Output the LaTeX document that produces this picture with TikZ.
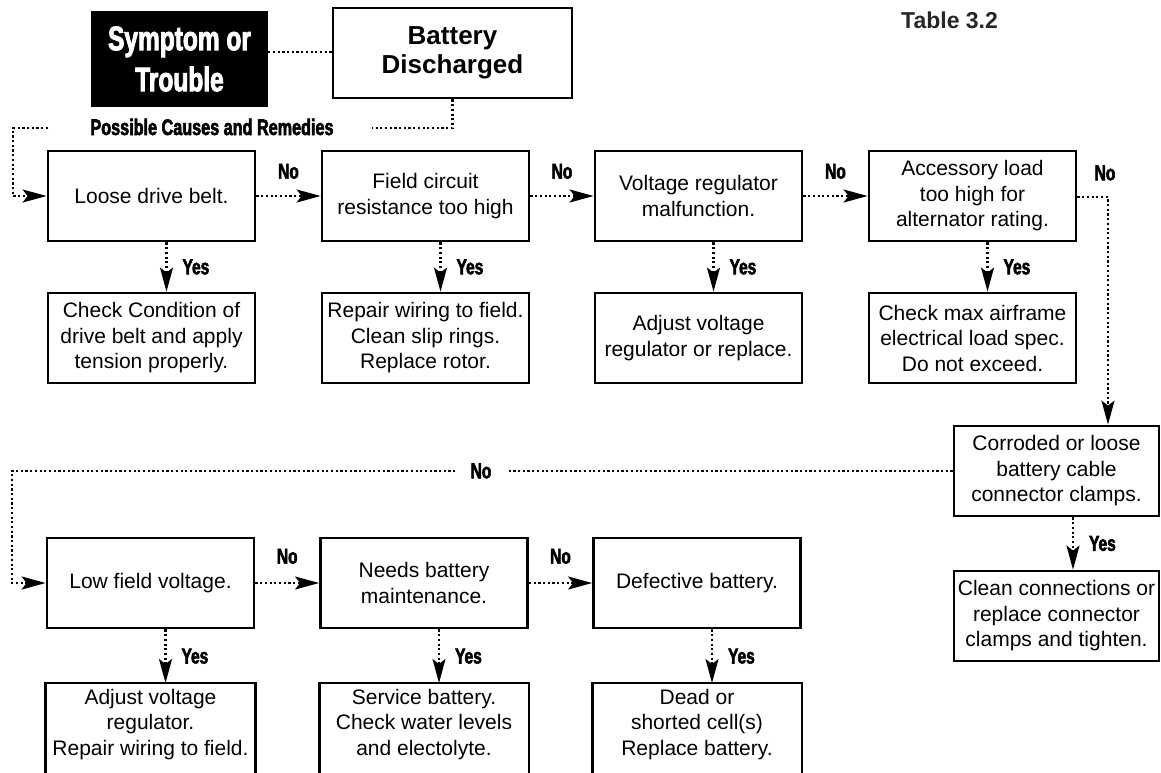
\documentclass[tikz,border=0pt]{standalone}
\usepackage{fontspec}
\setmainfont{Liberation Sans}
\newfontfamily\heavyfont[FakeStretch=0.72,FakeBold=2.5]{Liberation Sans}
\usetikzlibrary{arrows.meta}

\newcommand\cellfont{\fontsize{21}{25.5}\selectfont}
\newcommand\tagfont{\heavyfont\bfseries\fontsize{21.5}{23}\selectfont}

\begin{document}
\begin{tikzpicture}[x=1pt,y=-1pt,
  box/.style={draw,line width=2.8pt,minimum width=207pt,minimum height=90pt,
    align=center,font=\cellfont,inner sep=2pt},
  openbox/.style={box,draw=none,minimum height=80pt,anchor=north},
  boxline/.style={line width=2.8pt},
  dotline/.style={line width=2.2pt,dash pattern=on 2.2pt off 2.5pt},
  arr/.style={-{Stealth[length=24pt,width=13pt,inset=5pt]}},
  tag/.style={font=\tagfont,inner sep=0pt},
]
\useasboundingbox (0,0) rectangle (1161,772);

% ---------- header ----------
\node[fill=black,minimum width=177pt,minimum height=96pt,inner sep=0pt,
      text=white,align=center,
      font=\heavyfont\bfseries\fontsize{34}{41}\selectfont] (sym) at (179.5,59)
  {Symptom or\\Trouble};
\node[draw,line width=2.8pt,minimum width=239pt,minimum height=90pt,align=center,
      font=\bfseries\fontsize{26}{29}\selectfont] (bat) at (452.5,53)
  {Battery\\Discharged};
\node[anchor=base west,inner sep=0pt,text=black!85,
      font=\bfseries\fontsize{23}{26}\selectfont] (tbl) at (901,28) {Table 3.2};
\node[anchor=base,inner sep=0pt,font=\heavyfont\bfseries\fontsize{22.5}{24}\selectfont]
  (pcr) at (212,135) {Possible Causes and Remedies};

\coordinate (h1) at (372,128);
\coordinate (h2) at (48,128);
\coordinate (h3) at (13,128);

\draw[dotline] (sym.east |- 0,52) -- (bat.west |- 0,52);
\draw[dotline] (bat.south) |- (h1);

% ---------- first row ----------
\node[box] (b1) at (151.5,196) {Loose drive belt.};
\node[box] (b2) at (425.5,196) {Field circuit\\resistance too high};
\node[box] (b3) at (698.5,196) {Voltage regulator\\malfunction.};
\node[box] (b4) at (972.5,196) {Accessory load\\too high for\\alternator rating.};

\node[box] (r1) at (151.5,338) {Check Condition of\\drive belt and apply\\tension properly.};
\node[box] (r2) at (425.5,338) {Repair wiring to field.\\Clean slip rings.\\Replace rotor.};
\node[box] (r3) at (698.5,338) {Adjust voltage\\regulator or replace.};
\node[box] (r4) at (972.5,338) {Check max airframe\\electrical load spec.\\Do not exceed.};

\draw[dotline,arr] (h2) -- (h3) |- (b1.west);

\foreach \a/\b in {b1/b2,b2/b3,b3/b4}
  \draw[dotline,arr] (\a.east) -- (\b.west)
    node[tag,midway,above=16pt] {No};

\foreach \a/\b in {b1/r1,b2/r2,b3/r3,b4/r4}
  \draw[dotline,arr] ([xshift=15pt]\a.south) -- ([xshift=15pt]\b.north)
    node[tag,midway,right=15pt] {Yes};

% ---------- right column ----------
\node[box,minimum width=205pt] (c1) at (1056.5,471)
  {Corroded or loose\\battery cable\\connector clamps.};
\node[box,minimum width=205pt] (c2) at (1056.5,616)
  {Clean connections or\\replace connector\\clamps and tighten.};

\coordinate (k1) at (1108,197);
\draw[dotline,arr] (b4.east |- k1) -- (k1) -- (k1 |- c1.north);
\node[tag] (no4) at (1105,173) {No};

\draw[dotline,arr] ([xshift=16.5pt]c1.south) -- ([xshift=16.5pt]c2.north)
  node[tag,midway,right=15pt] {Yes};

% ---------- second row ----------
\node[box] (d1) at (150.5,583) {Low field voltage.};
\node[box] (d2) at (424,583) {Needs battery\\maintenance.};
\node[box] (d3) at (697,583) {Defective battery.};

\node[openbox] (e1) at (150.5,683) {Adjust voltage\\regulator.\\Repair wiring to field.};
\node[openbox] (e2) at (424,683) {Service battery.\\Check water levels\\and electolyte.};
\node[openbox] (e3) at (697,683) {Dead or\\shorted cell(s)\\Replace battery.};
\foreach \e in {e1,e2,e3}
  \draw[boxline] ([yshift=-30pt]\e.south west) |- (\e.north east)
    -- ([yshift=-30pt]\e.south east);

\node[tag,minimum width=51pt] (nolong) at (481,471) {No};
\coordinate (k2) at (12,471);
\draw[dotline] (c1.west) -- (nolong.east);
\draw[dotline,arr] (nolong.west) -- (k2) |- (d1.west);

\foreach \a/\b in {d1/d2,d2/d3}
  \draw[dotline,arr] (\a.east) -- (\b.west)
    node[tag,midway,above=18pt] {No};

\foreach \a/\b in {d1/e1,d2/e2,d3/e3}
  \draw[dotline,arr] ([xshift=15pt]\a.south) -- ([xshift=15pt]\b.north)
    node[tag,midway,right=15pt] {Yes};
\end{tikzpicture}
\end{document}
